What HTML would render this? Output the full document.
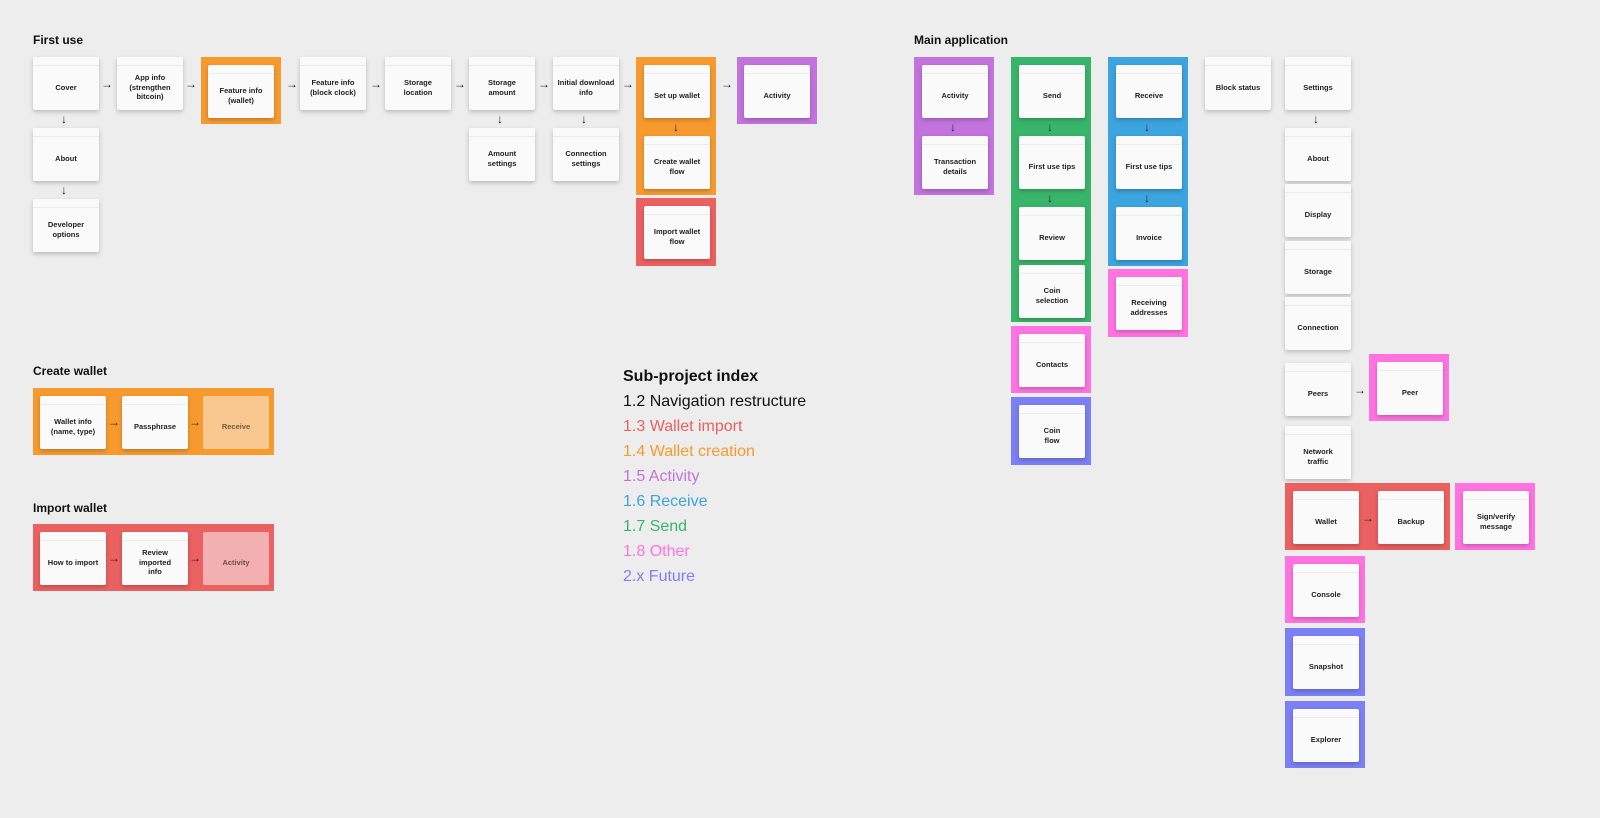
<!DOCTYPE html>
<html><head><meta charset="utf-8"><style>
*{margin:0;padding:0;box-sizing:border-box}
body{width:1600px;height:818px;background:#ededed;position:relative;overflow:hidden;font-family:"Liberation Sans",sans-serif;color:#111}
.g{position:absolute}
.c{position:absolute;width:66px;height:53px;background:#fafafa;border-radius:2px;box-shadow:0 2px 4px rgba(0,0,0,.22);display:flex;align-items:center;justify-content:center;text-align:center;font-size:7.5px;font-weight:bold;line-height:9.5px;padding-top:8px;color:#222}
.c:before{content:"";position:absolute;left:0;right:0;top:8px;height:1px;background:#ececec}
.c.n:before{display:none}
.t{position:absolute;font-size:12px;font-weight:bold;color:#111}
.a{position:absolute;font-size:12px;color:#222 !important;line-height:12px}
.o{background:#f79a2e}.p{background:#c273dd}.gr{background:#39b56b}.b{background:#3ca4de}.pk{background:#ff73e1}.r{background:#eb6161}.f{background:#7b80f4}
.idx{position:absolute;left:623px;font-size:16px;line-height:25px}
</style></head><body>
<div class="t" style="left:33px;top:33px">First use</div>
<div class="t" style="left:914px;top:33px">Main application</div>
<div class="t" style="left:33px;top:364px">Create wallet</div>
<div class="t" style="left:33px;top:501px">Import wallet</div>

<div class="g o" style="left:201px;top:57px;width:80px;height:67px"></div>
<div class="g o" style="left:636px;top:57px;width:80px;height:138px"></div>
<div class="g r" style="left:636px;top:198px;width:80px;height:68px"></div>
<div class="g p" style="left:737px;top:57px;width:80px;height:67px"></div>
<div class="g o" style="left:33px;top:388px;width:241px;height:67px"></div>
<div class="g r" style="left:33px;top:524px;width:241px;height:67px"></div>
<div class="g p" style="left:914px;top:57px;width:80px;height:138px"></div>
<div class="g gr" style="left:1011px;top:57px;width:80px;height:265px"></div>
<div class="g pk" style="left:1011px;top:326px;width:80px;height:67px"></div>
<div class="g f" style="left:1011px;top:397px;width:80px;height:68px"></div>
<div class="g b" style="left:1108px;top:57px;width:80px;height:209px"></div>
<div class="g pk" style="left:1108px;top:269px;width:80px;height:68px"></div>
<div class="g pk" style="left:1369px;top:354px;width:80px;height:67px"></div>
<div class="g r" style="left:1285px;top:483px;width:165px;height:67px"></div>
<div class="g pk" style="left:1455px;top:483px;width:80px;height:67px"></div>
<div class="g pk" style="left:1285px;top:556px;width:80px;height:67px"></div>
<div class="g f" style="left:1285px;top:628px;width:80px;height:68px"></div>
<div class="g f" style="left:1285px;top:701px;width:80px;height:67px"></div>

<div class="c" style="left:33px;top:57px">Cover</div>
<div class="c" style="left:117px;top:57px">App info<br>(strengthen<br>bitcoin)</div>
<div class="c" style="left:208px;top:65px">Feature info<br>(wallet)</div>
<div class="c" style="left:300px;top:57px">Feature info<br>(block clock)</div>
<div class="c" style="left:385px;top:57px">Storage<br>location</div>
<div class="c" style="left:469px;top:57px">Storage<br>amount</div>
<div class="c" style="left:553px;top:57px">Initial download<br>info</div>
<div class="c" style="left:644px;top:65px">Set up wallet</div>
<div class="c" style="left:644px;top:136px">Create wallet<br>flow</div>
<div class="c" style="left:644px;top:206px">Import wallet<br>flow</div>
<div class="c" style="left:744px;top:65px">Activity</div>
<div class="c" style="left:33px;top:128px">About</div>
<div class="c" style="left:33px;top:199px">Developer<br>options</div>
<div class="c" style="left:469px;top:128px">Amount<br>settings</div>
<div class="c" style="left:553px;top:128px">Connection<br>settings</div>
<div class="a" style="left:101px;top:78px">→</div>
<div class="a" style="left:185px;top:78px">→</div>
<div class="a" style="left:286px;top:78px">→</div>
<div class="a" style="left:370px;top:78px">→</div>
<div class="a" style="left:454px;top:78px">→</div>
<div class="a" style="left:538px;top:78px">→</div>
<div class="a" style="left:622px;top:78px">→</div>
<div class="a" style="left:721px;top:78px">→</div>
<div class="a" style="left:61px;top:113px">↓</div>
<div class="a" style="left:61px;top:184px">↓</div>
<div class="a" style="left:497px;top:113px">↓</div>
<div class="a" style="left:581px;top:113px">↓</div>
<div class="a" style="left:673px;top:121px">↓</div>

<div class="c" style="left:40px;top:396px">Wallet info<br>(name, type)</div>
<div class="c" style="left:122px;top:396px">Passphrase</div>
<div class="c n" style="left:203px;top:396px;background:#f9c790;color:#7a5a3a;box-shadow:none">Receive</div>
<div class="a" style="left:108px;top:416px">→</div>
<div class="a" style="left:189px;top:416px">→</div>
<div class="c" style="left:40px;top:532px">How to import</div>
<div class="c" style="left:122px;top:532px">Review<br>imported<br>info</div>
<div class="c n" style="left:203px;top:532px;background:#f2b0b0;color:#7a4a4a;box-shadow:none">Activity</div>
<div class="a" style="left:108px;top:552px">→</div>
<div class="a" style="left:189px;top:552px">→</div>

<div class="idx" style="top:364px;font-weight:bold">Sub-project index</div>
<div class="idx" style="top:389px">1.2 Navigation restructure</div>
<div class="idx" style="top:414px;color:#eb5f5f">1.3 Wallet import</div>
<div class="idx" style="top:439px;color:#f79a2e">1.4 Wallet creation</div>
<div class="idx" style="top:464px;color:#c273dd">1.5 Activity</div>
<div class="idx" style="top:489px;color:#3ca4de">1.6 Receive</div>
<div class="idx" style="top:514px;color:#39b56b">1.7 Send</div>
<div class="idx" style="top:539px;color:#ff73e1">1.8 Other</div>
<div class="idx" style="top:564px;color:#7b80f4">2.x Future</div>

<div class="c" style="left:922px;top:65px">Activity</div>
<div class="c" style="left:922px;top:136px">Transaction<br>details</div>
<div class="a" style="left:950px;top:121px">↓</div>
<div class="c" style="left:1019px;top:65px">Send</div>
<div class="c" style="left:1019px;top:136px">First use tips</div>
<div class="c" style="left:1019px;top:207px">Review</div>
<div class="c" style="left:1019px;top:265px">Coin<br>selection</div>
<div class="a" style="left:1047px;top:121px">↓</div>
<div class="a" style="left:1047px;top:192px">↓</div>
<div class="c" style="left:1019px;top:334px">Contacts</div>
<div class="c" style="left:1019px;top:405px">Coin<br>flow</div>
<div class="c" style="left:1116px;top:65px">Receive</div>
<div class="c" style="left:1116px;top:136px">First use tips</div>
<div class="c" style="left:1116px;top:207px">Invoice</div>
<div class="a" style="left:1144px;top:121px">↓</div>
<div class="a" style="left:1144px;top:192px">↓</div>
<div class="c" style="left:1116px;top:277px">Receiving<br>addresses</div>
<div class="c" style="left:1205px;top:57px">Block status</div>
<div class="c" style="left:1285px;top:57px">Settings</div>
<div class="a" style="left:1313px;top:113px">↓</div>
<div class="c" style="left:1285px;top:128px">About</div>
<div class="c" style="left:1285px;top:184px">Display</div>
<div class="c" style="left:1285px;top:241px">Storage</div>
<div class="c" style="left:1285px;top:297px">Connection</div>
<div class="c" style="left:1285px;top:363px">Peers</div>
<div class="a" style="left:1354px;top:384px">→</div>
<div class="c" style="left:1377px;top:362px">Peer</div>
<div class="c" style="left:1285px;top:426px">Network<br>traffic</div>
<div class="c" style="left:1293px;top:491px">Wallet</div>
<div class="a" style="left:1362px;top:512px">→</div>
<div class="c" style="left:1378px;top:491px">Backup</div>
<div class="c" style="left:1463px;top:491px">Sign/verify<br>message</div>
<div class="c" style="left:1293px;top:564px">Console</div>
<div class="c" style="left:1293px;top:636px">Snapshot</div>
<div class="c" style="left:1293px;top:709px">Explorer</div>
</body></html>
